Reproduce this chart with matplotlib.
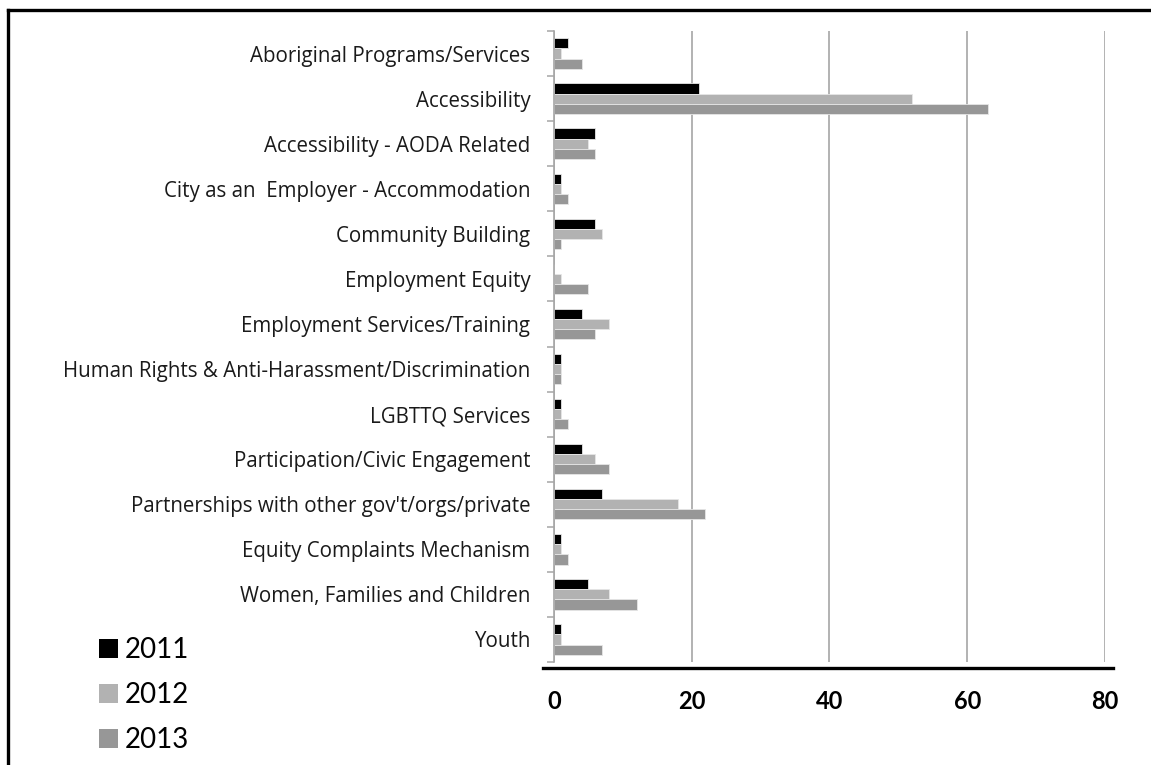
import matplotlib
matplotlib.use("Agg")
import matplotlib.pyplot as plt
from matplotlib.lines import Line2D
from matplotlib.patches import Patch
import numpy as np

plt.rcParams["font.family"] = ["Open Sans", "DejaVu Sans"]

categories = [
    "Aboriginal Programs/Services",
    "Accessibility",
    "Accessibility - AODA Related",
    "City as an  Employer - Accommodation",
    "Community Building",
    "Employment Equity",
    "Employment Services/Training",
    "Human Rights & Anti-Harassment/Discrimination",
    "LGBTTQ Services",
    "Participation/Civic Engagement",
    "Partnerships with other gov't/orgs/private",
    "Equity Complaints Mechanism",
    "Women, Families and Children",
    "Youth",
]
years = ["2011", "2012", "2013"]
v2011 = [2, 21, 6, 1, 6, 0, 4, 1, 1, 4, 7, 1, 5, 1]
v2012 = [1, 52, 5, 1, 7, 1, 8, 1, 1, 6, 18, 1, 8, 1]
v2013 = [4, 63, 6, 2, 1, 5, 6, 1, 2, 8, 22, 2, 12, 7]
x_ticks = [0, 20, 40, 60, 80]

colors = ["#000000", "#b2b2b2", "#979797"]
grid_c = "#a6a6a6"

fig = plt.figure(figsize=(11.51, 7.65), dpi=100)
ax = fig.add_axes([0.4813, 0.1346, 0.4787, 0.8249])

y = np.arange(len(categories))
h = 0.225
for k, (vals, c) in enumerate(zip([v2011, v2012, v2013], colors)):
    ax.barh(y + (k - 1) * h, vals, height=h, color=c,
            edgecolor="#e6e6e6", linewidth=0.6, zorder=3)

ax.set_xlim(0, 80)
ax.set_ylim(len(categories) - 0.5, -0.5)
ax.set_xticks(x_ticks)
ax.set_xticklabels([str(t) for t in x_ticks], fontsize=17, fontweight="bold",
                   family=["Lato", "DejaVu Sans"])
ax.tick_params(axis="x", length=0, pad=20)
ax.set_yticks(y)
ax.set_yticklabels(categories, fontsize=14.8, color="#1a1a1a")
ax.tick_params(axis="y", which="major", length=0, pad=17)
ax.set_yticks(np.arange(len(categories) + 1) - 0.5, minor=True)
ax.tick_params(axis="y", which="minor", length=5, width=1.1, color=grid_c, direction="out")

ax.grid(axis="x", color=grid_c, linewidth=1.2, zorder=0)
for s in ["top", "right", "bottom"]:
    ax.spines[s].set_visible(False)
ax.spines["left"].set_color(grid_c)
ax.spines["left"].set_linewidth(1.2)
ax.spines["left"].set_zorder(4)

# thick black baseline, slightly below and wider than the plot
ax.add_line(Line2D([-0.02, 1.0145], [-0.009, -0.009], transform=ax.transAxes,
                   color="black", linewidth=2.4, clip_on=False))

handles = [Patch(facecolor=c, edgecolor="none") for c in colors]
fig.legend(handles, years, loc="upper left", bbox_to_anchor=(0.064, 0.2),
           frameon=False, handlelength=0.68, handleheight=0.68,
           handletextpad=0.25, labelspacing=0.68,
           prop={"family": ["Lato", "DejaVu Sans"], "size": 20})

# frame lines (top and left)
fig.add_artist(Line2D([8 / 1151, 1], [1 - 10 / 765, 1 - 10 / 765],
                      transform=fig.transFigure, color="black", linewidth=2.4))
fig.add_artist(Line2D([8 / 1151, 8 / 1151], [0, 1 - 10 / 765],
                      transform=fig.transFigure, color="black", linewidth=2.4))

fig.savefig("out.png", dpi=100)
